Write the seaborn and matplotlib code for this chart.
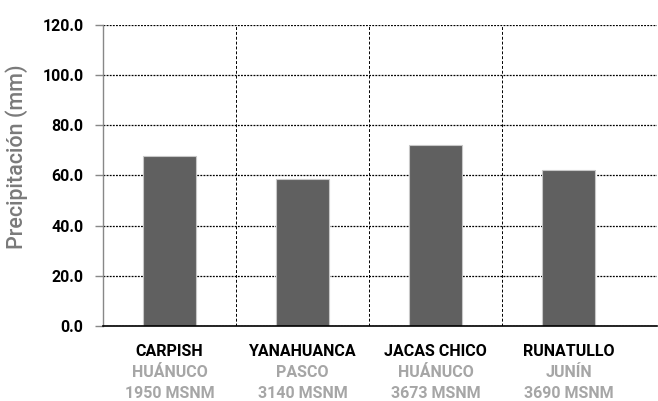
import seaborn as sns
import pandas as pd
import matplotlib.pyplot as plt
from matplotlib.transforms import blended_transform_factory

stations = ['CARPISH', 'YANAHUANCA', 'JACAS CHICO', 'RUNATULLO']
regions = ['HUÁNUCO', 'PASCO', 'HUÁNUCO', 'JUNÍN']
altitudes = ['1950 MSNM', '3140 MSNM', '3673 MSNM', '3690 MSNM']
precip = [67.7, 58.7, 72.0, 62.0]
yticks = [0, 20, 40, 60, 80, 100, 120]

data = pd.DataFrame({'station': stations, 'precip': precip})

sns.set_theme(style='white')
plt.rcParams['font.family'] = ['Roboto', 'DejaVu Sans']

fig = plt.figure(figsize=(6.58, 4.01), dpi=100)
ax = fig.add_axes([0.1565, 0.187, 0.8420, 0.7507])

sns.barplot(x='station', y='precip', data=data, color='#606060', width=0.4,
            edgecolor='#c8c8c8', linewidth=0.8, saturation=1, ax=ax, zorder=3)

ax.set_xlim(-0.5, 3.665)
ax.set_ylim(0, 120)
ax.set_yticks(yticks)
ax.set_yticklabels(['%.1f' % v for v in yticks], fontsize=11.5, fontweight='bold', color='black')
ax.set_xticks(range(len(stations)))
ax.set_xticklabels(stations, fontsize=11.5, fontweight='bold', color='black')
ax.tick_params(axis='y', length=6, width=1, color='#888888', pad=8, left=True)
ax.tick_params(axis='x', length=0, pad=13)

ax.yaxis.grid(True, linestyle=(0, (1.5, 1)), color='black', linewidth=0.9)
for xv in [0.5, 1.5, 2.5]:
    ax.axvline(xv, color='black', linestyle=(0, (3, 2)), linewidth=0.7, zorder=1)
ax.set_axisbelow(True)

for s in ['top', 'right']:
    ax.spines[s].set_visible(False)
ax.spines['left'].set_color('#888888')
ax.spines['left'].set_linewidth(1)
ax.spines['bottom'].set_color('black')
ax.spines['bottom'].set_linewidth(1.2)
ax.spines['bottom'].set_zorder(4)

ax.set_xlabel('')
ax.set_ylabel('Precipitación (mm)', fontsize=15.5, color='#7a7a7a', fontweight='medium')
ax.yaxis.set_label_coords(-0.135, 0.561)

trans = blended_transform_factory(ax.transData, ax.transAxes)
for i in range(len(stations)):
    ax.text(i, -0.155, regions[i], transform=trans, ha='center', va='center',
            fontsize=11.5, fontweight='bold', color='#a6a6a6')
    ax.text(i, -0.225, altitudes[i], transform=trans, ha='center', va='center',
            fontsize=11.5, fontweight='bold', color='#a6a6a6')

fig.savefig('out.png', dpi=100)
